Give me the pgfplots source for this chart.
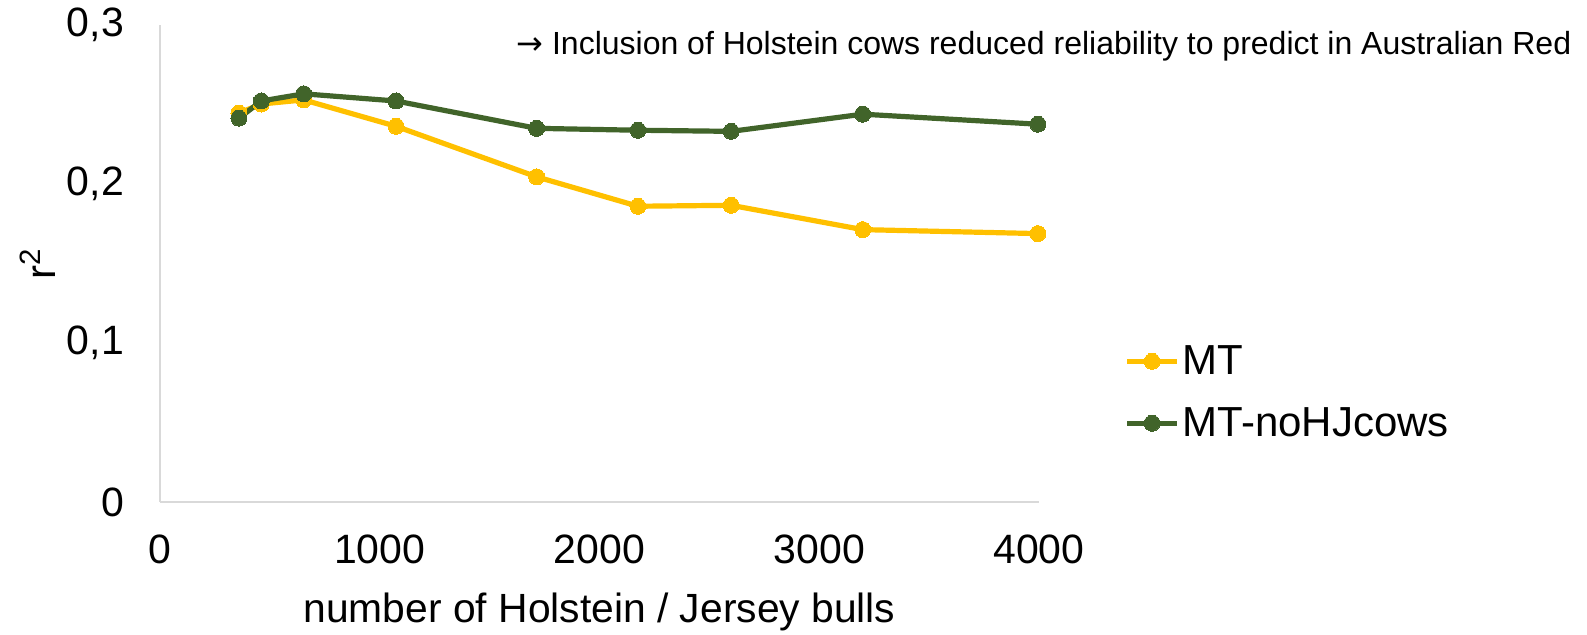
\documentclass[border=0pt]{standalone}
\usepackage{pgfplots}
\pgfplotsset{compat=1.18}
\usepackage{fontspec}
\setmainfont{Liberation Sans}
\newfontfamily\arrowfont{DejaVu Sans}
\definecolor{mtyellow}{HTML}{FFC000}
\definecolor{mtgreen}{HTML}{41642A}
\definecolor{axgray}{HTML}{D9D9D9}
\begin{document}
\begin{tikzpicture}
\path[use as bounding box] (-80pt,-66.5pt) rectangle (713.5pt,251pt);
\begin{axis}[
  at={(0,0)}, anchor=south west,
  scale only axis, width=439.5pt, height=238.5pt,
  xmin=0, xmax=4000, ymin=0, ymax=0.3,
  axis lines*=left,
  axis line style={axgray, line width=1.2pt, -},
  xtick={0,1000,2000,3000,4000},
  ytick={0,0.1,0.2,0.3},
  yticklabels={0,{0,1},{0,2},{0,3}},
  xticklabels={0,1000,2000,3000,4000},
  major tick length=0pt,
  tick style={draw=none},
  ticklabel style={font=\fontsize{20.5}{24}\selectfont},
  xticklabel style={yshift=-13pt},
  yticklabel style={xshift=-14.5pt},
  xlabel={number of Holstein / Jersey bulls},
  xlabel style={at={(axis description cs:0.5,-0.231)}, anchor=center, font=\fontsize{20.4}{24}\selectfont},
  ylabel={r\textsuperscript{2}},
  ylabel style={at={(axis description cs:-0.139,0.5)}, anchor=center, font=\fontsize{21}{25}\selectfont},
  legend style={at={(axis description cs:1.09,0.23)}, anchor=west, draw=none, fill=none,
    font=\fontsize{21}{25}\selectfont, row sep=11pt, nodes={inner xsep=1.5pt}},
  legend cell align=left,
  legend image code/.code={\draw[mark repeat=2,mark phase=2] plot coordinates {(0pt,0pt) (12.5pt,0pt) (25pt,0pt)};},
  clip=false,
]
\addplot[mtyellow, line width=2.6pt, mark=*, mark size=4pt, mark options={fill=mtyellow, draw=mtyellow, line width=0pt}]
coordinates {(359,0.2446) (461,0.2503) (654,0.2529) (1074,0.2363) (1714,0.2045) (2175,0.1860) (2599,0.1866) (3198,0.1713) (3995,0.1688)};
\addlegendentry{MT}
\addplot[mtgreen, line width=2.6pt, mark=*, mark size=4pt, mark options={fill=mtgreen, draw=mtgreen, line width=0pt}]
coordinates {(359,0.2414) (461,0.2522) (654,0.2567) (1074,0.2522) (1714,0.2350) (2175,0.2338) (2599,0.2331) (3198,0.2439) (3995,0.2376)};
\addlegendentry{MT-noHJcows}
\node[anchor=west, inner sep=0pt, font=\fontsize{16}{19}\selectfont] at (rel axis cs:0.405,0.955) {{\arrowfont →} Inclusion of Holstein cows reduced reliability to predict in Australian Red};
\end{axis}
\end{tikzpicture}
\end{document}
